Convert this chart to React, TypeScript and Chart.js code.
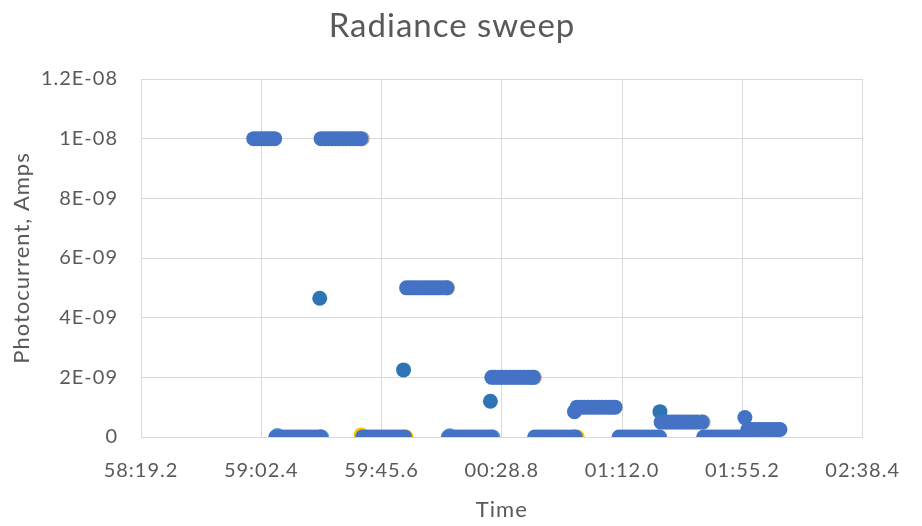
import React, { useEffect, useRef } from "react";
import { Chart, registerables } from "chart.js";

Chart.register(...registerables);

// x values: seconds elapsed since 58:00.0
const xTicks = [19.2, 62.4, 105.6, 148.8, 192.0, 235.2, 278.4];
const xTickLabels = ["58:19.2", "59:02.4", "59:45.6", "00:28.8", "01:12.0", "01:55.2", "02:38.4"];
const yTicks = [0, 2e-9, 4e-9, 6e-9, 8e-9, 1e-8, 1.2e-8];
const yTickLabels = ["0", "2E-09", "4E-09", "6E-09", "8E-09", "1E-08", "1.2E-08"];

// main sweep series (blue)
const sweepTime = [
  59.7, 61.0, 62.3, 63.5, 64.8, 66.0, 67.2,
  67.6, 68.9, 70.2, 71.5, 72.8, 74.1, 75.4, 76.7, 78.0, 79.3, 80.6, 81.9, 83.2, 83.7,
  83.9, 85.2, 86.5, 87.8, 89.1, 90.4, 91.7, 93.0, 94.3, 95.6, 96.9, 98.1,
  98.8, 100.1, 101.4, 102.7, 104.0, 105.3, 106.6, 107.9, 109.2, 110.5, 111.8, 113.0, 113.9,
  114.6, 115.9, 117.2, 118.5, 119.8, 121.1, 122.4, 123.7, 125.0, 126.3, 127.6, 129.0,
  129.6, 130.9, 132.2, 133.5, 134.8, 136.1, 137.4, 138.7, 140.0, 141.3, 142.6, 143.9, 145.0,
  145.2, 146.5, 147.8, 149.1, 150.4, 151.7, 153.0, 154.3, 155.6, 156.9, 158.2, 159.2, 160.1,
  160.6, 161.9, 163.2, 164.5, 165.8, 167.1, 168.4, 169.7, 171.0, 172.3, 173.6, 174.6, 175.2,
  174.9,
  175.8, 177.1, 178.4, 179.7, 181.0, 182.3, 183.6, 184.9, 186.2, 187.5, 188.6, 189.5,
  190.9, 192.2, 193.5, 194.8, 196.1, 197.4, 198.7, 200.0, 201.3, 202.6, 203.9, 205.3,
  206.0, 207.3, 208.6, 209.9, 211.2, 212.5, 213.8, 215.1, 216.4, 217.7, 219.0, 220.7,
  221.3, 222.6, 223.9, 225.2, 226.5, 227.8, 229.1, 230.4, 231.7, 233.0, 234.2, 235.2,
  236.1,
  237.2, 238.5, 239.8, 241.1, 242.4, 243.7, 245.0, 246.3, 247.6, 248.7,
];
const sweepCurrent = [
  1e-8, 1e-8, 1e-8, 1e-8, 1e-8, 1e-8, 1e-8,
  0, 0, 0, 0, 0, 0, 0, 0, 0, 0, 0, 0, 0, 0,
  1e-8, 1e-8, 1e-8, 1e-8, 1e-8, 1e-8, 1e-8, 1e-8, 1e-8, 1e-8, 1e-8, 1e-8,
  0, 0, 0, 0, 0, 0, 0, 0, 0, 0, 0, 0, 0,
  5e-9, 5e-9, 5e-9, 5e-9, 5e-9, 5e-9, 5e-9, 5e-9, 5e-9, 5e-9, 5e-9, 5e-9,
  0, 0, 0, 0, 0, 0, 0, 0, 0, 0, 0, 0, 0,
  2e-9, 2e-9, 2e-9, 2e-9, 2e-9, 2e-9, 2e-9, 2e-9, 2e-9, 2e-9, 2e-9, 2e-9, 2e-9,
  0, 0, 0, 0, 0, 0, 0, 0, 0, 0, 0, 0, 0,
  0.85e-9,
  1e-9, 1e-9, 1e-9, 1e-9, 1e-9, 1e-9, 1e-9, 1e-9, 1e-9, 1e-9, 1e-9, 1e-9,
  0, 0, 0, 0, 0, 0, 0, 0, 0, 0, 0, 0,
  5e-10, 5e-10, 5e-10, 5e-10, 5e-10, 5e-10, 5e-10, 5e-10, 5e-10, 5e-10, 5e-10, 5e-10,
  0, 0, 0, 0, 0, 0, 0, 0, 0, 0, 0, 0,
  0.65e-9,
  2.5e-10, 2.5e-10, 2.5e-10, 2.5e-10, 2.5e-10, 2.5e-10, 2.5e-10, 2.5e-10, 2.5e-10, 2.5e-10,
];

// transition samples (dark blue)
const transitionTime = [83.4, 113.5, 144.7, 205.6];
const transitionCurrent = [4.65e-9, 2.25e-9, 1.2e-9, 0.85e-9];

// other overlapping runs
const lightBlueTime = [68.2, 84.1, 130.1, 145.6, 205.5];
const lightBlueCurrent = [0.05e-9, 0, 0.04e-9, 0, 0];
const yellowTime = [98.3, 114.4, 175.9, 236.7];
const yellowCurrent = [0.07e-9, 0, 0, -0.05e-9];
const grayTime = [98.6, 129.3, 160.5, 221.1];
const grayCurrent = [1e-8, 5e-9, 2e-9, 5e-10];

const toPoints = (xs: number[], ys: number[]) => xs.map((x, i) => ({ x, y: ys[i] }));

const FONT = "Lato";
const TEXT = "#595959";
const GRID = "#D9D9D9";

const spacingPlugin = {
  id: "letterSpacing",
  beforeLayout(chart: any) {
    chart.ctx.letterSpacing = "1px";
  },
  beforeDraw(chart: any) {
    chart.ctx.letterSpacing = "1px";
  },
};

export default function App() {
  const ref = useRef<HTMLCanvasElement | null>(null);

  useEffect(() => {
    if (!ref.current) return;
    const mk = (label: string, data: any[], color: string, order: number) => ({
      label,
      data,
      backgroundColor: color,
      borderColor: color,
      pointRadius: 7.5,
      pointBorderWidth: 0,
      showLine: false,
      order,
    });
    const chart = new Chart(ref.current, {
      type: "scatter",
      plugins: [spacingPlugin],
      data: {
        datasets: [
          mk("Sweep", toPoints(sweepTime, sweepCurrent), "#4472C4", 0),
          mk("Transition", toPoints(transitionTime, transitionCurrent), "#2E75B6", 1),
          mk("Run B", toPoints(lightBlueTime, lightBlueCurrent), "#5B9BD5", 2),
          mk("Run C", toPoints(yellowTime, yellowCurrent), "#FFC000", 3),
          mk("Run D", toPoints(grayTime, grayCurrent), "#A5A5A5", 4),
        ],
      },
      options: {
        animation: false,
        responsive: false,
        events: [],
        layout: { padding: { left: 20, right: 38, top: 0, bottom: 0 } },
        plugins: {
          legend: { display: false },
          tooltip: { enabled: false },
          title: {
            display: true,
            text: "Radiance sweep",
            color: TEXT,
            font: { family: FONT, size: 33, weight: "normal" },
            padding: { top: 7, bottom: 32.4 },
          },
        },
        scales: {
          x: {
            type: "linear",
            min: 19.2,
            max: 278.4,
            afterBuildTicks: (a: any) => {
              a.ticks = xTicks.map((v) => ({ value: v }));
            },
            afterFit: (s: any) => {
              s.height = 89;
            },
            ticks: {
              callback: (_v: any, i: number) => xTickLabels[i],
              color: TEXT,
              font: { family: FONT, size: 20 },
              padding: 22,
              maxRotation: 0,
              autoSkip: false,
            },
            grid: { color: GRID, drawTicks: false },
            border: { color: GRID },
            title: {
              display: true,
              text: "Time",
              color: TEXT,
              font: { family: FONT, size: 22 },
              padding: { top: 0, bottom: 3 },
            },
          },
          y: {
            type: "linear",
            min: 0,
            max: 1.2e-8,
            afterBuildTicks: (a: any) => {
              a.ticks = yTicks.map((v) => ({ value: v }));
            },
            afterFit: (s: any) => {
              s.width = 121;
            },
            ticks: {
              callback: (_v: any, i: number) => yTickLabels[i],
              color: TEXT,
              font: { family: FONT, size: 20 },
              padding: 23,
            },
            grid: { color: GRID, drawTicks: false },
            border: { display: false },
            title: {
              display: true,
              text: "Photocurrent, Amps",
              color: TEXT,
              font: { family: FONT, size: 22 },
              padding: { top: -11, bottom: 0 },
            },
          },
        },
      } as any,
    });
    return () => chart.destroy();
  }, []);

  return (
    <div style={{ position: "fixed", left: 0, top: 0, width: 922, height: 526, background: "#fff" }}>
      <canvas ref={ref} width={922} height={526} />
    </div>
  );
}
